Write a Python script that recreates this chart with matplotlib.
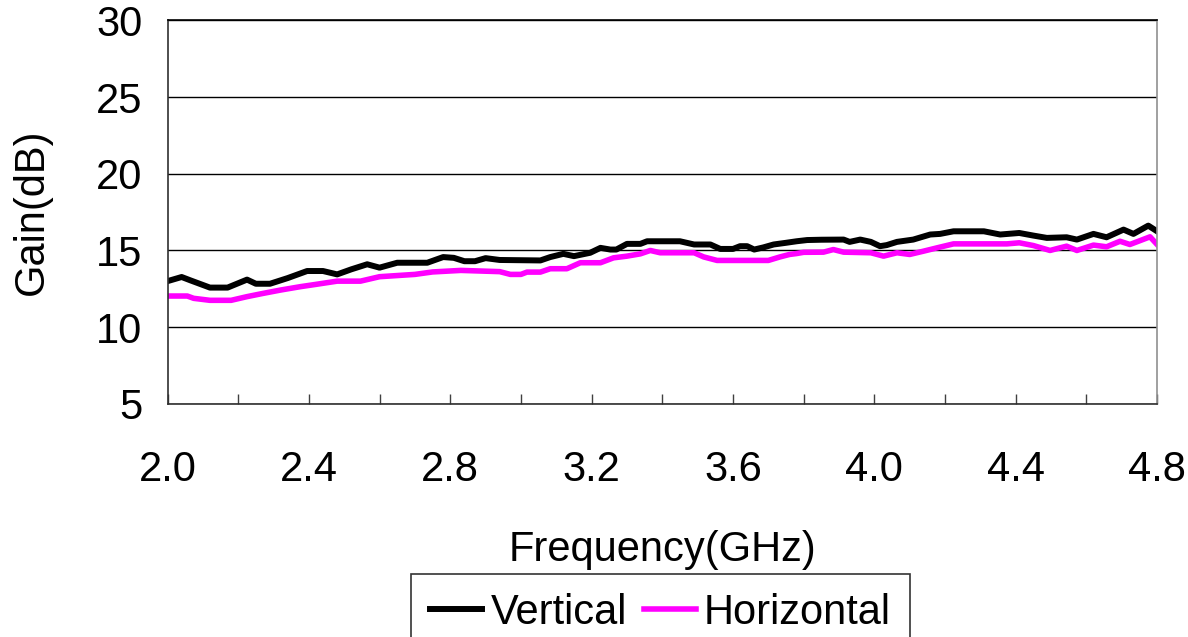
import matplotlib
matplotlib.use('Agg')
import matplotlib.pyplot as plt
from matplotlib.ticker import MultipleLocator

plt.rcParams['font.family'] = ['Liberation Sans', 'DejaVu Sans']

# values
freq_v = [2.00, 2.04, 2.065, 2.12, 2.17, 2.225, 2.25, 2.29, 2.34, 2.395, 2.44, 2.48,
          2.52, 2.565, 2.60, 2.65, 2.735, 2.78, 2.81, 2.84, 2.87, 2.90, 2.94, 3.055,
          3.083, 3.12, 3.15, 3.196, 3.225, 3.253, 3.27, 3.30, 3.338, 3.357, 3.45, 3.49,
          3.536, 3.564, 3.60, 3.62, 3.64, 3.66, 3.686, 3.715, 3.75, 3.78, 3.81, 3.85,
          3.913, 3.93, 3.96, 3.99, 4.016, 4.035, 4.064, 4.11, 4.158, 4.186, 4.224, 4.31,
          4.356, 4.41, 4.45, 4.488, 4.544, 4.573, 4.62, 4.657, 4.705, 4.733, 4.775, 4.80]
gain_v = [13.0, 13.27, 13.05, 12.58, 12.58, 13.1, 12.83, 12.83, 13.2, 13.66, 13.66, 13.44,
          13.77, 14.1, 13.88, 14.2, 14.2, 14.57, 14.52, 14.3, 14.3, 14.5, 14.38, 14.35,
          14.57, 14.78, 14.63, 14.85, 15.17, 15.06, 15.06, 15.43, 15.43, 15.6, 15.6, 15.39,
          15.39, 15.1, 15.1, 15.28, 15.28, 15.06, 15.2, 15.39, 15.5, 15.6, 15.68, 15.7,
          15.71, 15.56, 15.71, 15.56, 15.28, 15.35, 15.56, 15.71, 16.04, 16.08, 16.25, 16.25,
          16.04, 16.14, 15.97, 15.82, 15.86, 15.71, 16.08, 15.86, 16.36, 16.08, 16.62, 16.25]

freq_h = [2.00, 2.056, 2.074, 2.12, 2.18, 2.225, 2.27, 2.32, 2.376, 2.42, 2.48, 2.546,
          2.60, 2.66, 2.70, 2.75, 2.83, 2.94, 2.97, 3.00, 3.017, 3.055, 3.083, 3.13,
          3.168, 3.225, 3.262, 3.30, 3.338, 3.366, 3.394, 3.49, 3.517, 3.555, 3.70, 3.733,
          3.76, 3.78, 3.80, 3.856, 3.884, 3.913, 3.99, 4.026, 4.064, 4.10, 4.14, 4.186,
          4.224, 4.375, 4.41, 4.45, 4.497, 4.525, 4.544, 4.573, 4.62, 4.657, 4.695, 4.723,
          4.78, 4.80]
gain_h = [12.03, 12.03, 11.88, 11.75, 11.75, 11.99, 12.2, 12.42, 12.64, 12.79, 13.0, 13.0,
          13.29, 13.38, 13.44, 13.6, 13.7, 13.62, 13.44, 13.44, 13.59, 13.59, 13.81, 13.81,
          14.2, 14.2, 14.52, 14.63, 14.78, 15.0, 14.85, 14.85, 14.58, 14.35, 14.35, 14.58,
          14.74, 14.8, 14.88, 14.89, 15.06, 14.89, 14.85, 14.63, 14.85, 14.74, 14.96, 15.22,
          15.43, 15.43, 15.5, 15.32, 15.0, 15.17, 15.28, 15.0, 15.35, 15.24, 15.6, 15.39,
          15.89, 15.39]

fig = plt.figure(figsize=(11.88, 6.37), dpi=100)
ax = fig.add_axes([0.141, 0.366, 0.833, 0.602])

ax.plot(freq_v, gain_v, color='black', lw=4.3, label='Vertical')
ax.plot(freq_h, gain_h, color='#ff00ff', lw=4.0, label='Horizontal')

ax.set_xlim(2.0, 4.8)
ax.set_ylim(5, 30)
ax.xaxis.set_major_locator(MultipleLocator(0.4))
ax.xaxis.set_minor_locator(MultipleLocator(0.2))
ax.xaxis.set_major_formatter(plt.FormatStrFormatter('%.1f'))
ax.set_yticks([5, 10, 15, 20, 25, 30])
ax.yaxis.grid(True, color='black', lw=1)
ax.set_axisbelow(True)

ax.tick_params(axis='x', which='both', direction='in', length=7, width=1,
               color='#404040', labelsize=30, pad=33)
ax.tick_params(axis='y', length=0, labelsize=30, pad=18)

ax.spines['left'].set_color('#303030')
ax.spines['bottom'].set_color('#303030')
ax.spines['top'].set_color('black')
ax.spines['right'].set_color('#909090')
for s in ax.spines.values():
    s.set_linewidth(1.2)

ax.set_xlabel('Frequency(GHz)', fontsize=30, labelpad=29)
ax.set_ylabel('Gain(dB)', fontsize=30, labelpad=32)

leg = fig.legend(loc='upper center', bbox_to_anchor=(0.556, 0.099), ncol=2,
                 fontsize=30, frameon=True, fancybox=False, edgecolor='black',
                 handlelength=1.25, handletextpad=0.2, columnspacing=0.4,
                 borderpad=0.45, borderaxespad=0)
leg.get_frame().set_linewidth(1.2)

fig.savefig('out.png', dpi=100)
